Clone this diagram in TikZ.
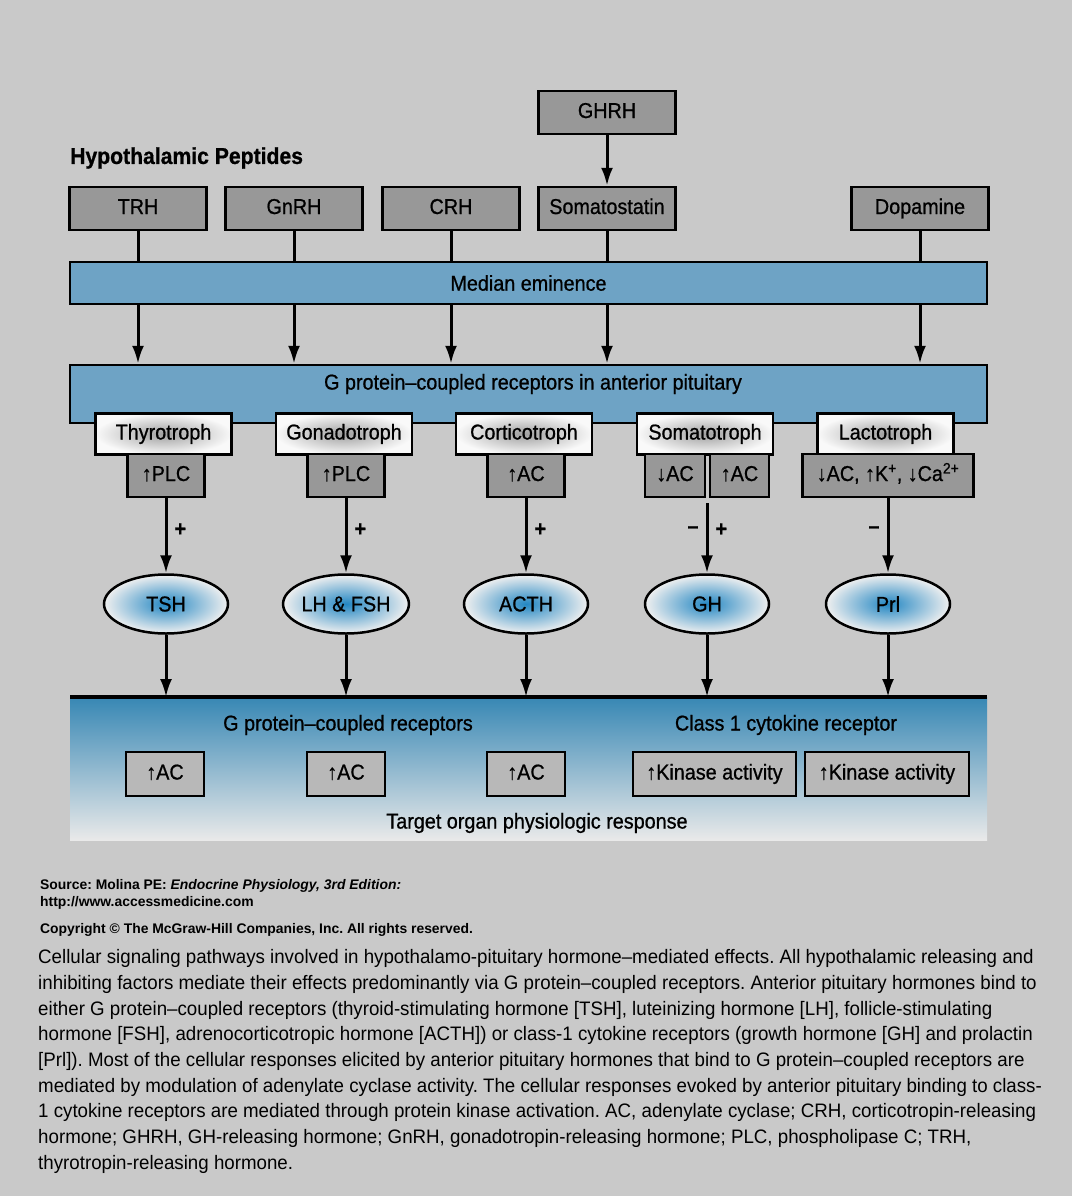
\documentclass[tikz,border=0pt]{standalone}
\usepackage{fontspec}
\setmainfont{Liberation Sans}
\newfontfamily\diagfont[FakeStretch=0.92,FakeBold=0.8]{Liberation Sans}
\newfontfamily\capfont[FakeStretch=0.96]{Liberation Sans}
\usepackage{xcolor}
\usetikzlibrary{arrows.meta,shapes.geometric}

\definecolor{bggray}{RGB}{201,201,201}
\definecolor{boxgray}{RGB}{152,152,152}
\definecolor{lightbox}{RGB}{184,184,184}
\definecolor{barblue}{RGB}{110,163,197}
\definecolor{ellblue}{RGB}{35,135,195}
\definecolor{regblue}{RGB}{55,135,180}

\newcommand{\dsize}{\diagfont\fontsize{21.5}{24}\selectfont}
\newcommand{\csize}{\capfont\fontsize{19.5}{22}\selectfont}
\newcommand{\ssize}{\fontsize{13.9}{16}\selectfont\bfseries}
\frenchspacing

\begin{document}
\begin{tikzpicture}[x=1pt, y=-1pt,
    hbox/.style={draw, line width=2.5pt, fill=boxgray, minimum width=137pt, minimum height=43pt, inner sep=0pt, text height=15pt, text depth=4pt, font=\dsize},
    bar/.style={draw, line width=2.5pt, fill=barblue, minimum width=917pt, inner sep=0pt, font=\dsize},
    cellbox/.style={draw, line width=2.5pt, shading=radial, inner color=gray!75, outer color=gray!5, minimum width=136pt, minimum height=41pt, inner sep=0pt, text height=15pt, text depth=4pt, font=\dsize},
    sigbox/.style={draw, line width=2.5pt, fill=boxgray, minimum height=43pt, inner sep=0pt, text height=15pt, text depth=4pt, font=\dsize},
    resbox/.style={draw, line width=2.5pt, fill=lightbox, minimum height=44pt, inner sep=0pt, text height=15pt, text depth=4pt, font=\dsize},
    hormone/.style={ellipse, draw, line width=2.5pt, shading=radial, inner color=ellblue, outer color=gray!12, minimum width=124pt, minimum height=59pt, inner sep=0pt, font=\dsize},
    arr/.style={line width=3pt, -{Latex[length=18pt,width=12pt]}},
    con/.style={line width=3pt},
    sign/.style={font=\dsize\bfseries, inner sep=7pt},
    txt/.style={anchor=west, inner sep=0pt}]

    % 背景
    \fill[bggray] (0,0) rectangle (1072,1196);
    \useasboundingbox (0,0) rectangle (1072,1196);

    % 下丘脑肽
    \node[txt, font=\diagfont\fontsize{23}{26}\selectfont\bfseries] (title) at (70,158) {Hypothalamic Peptides};
    \node[hbox] (GHRH) at (607,112.5) {GHRH};
    \node[hbox] (TRH) at (138,208.5) {TRH};
    \node[hbox] (GnRH) at (294,208.5) {GnRH};
    \node[hbox] (CRH) at (451,208.5) {CRH};
    \node[hbox] (Soma) at (607,208.5) {Somatostatin};
    \node[hbox] (Dopa) at (920,208.5) {Dopamine};

    % 正中隆起与受体
    \node[bar, minimum height=42pt] (ME) at (528.5,283) {Median eminence};
    \node[bar, minimum height=58pt] (GP) at (528.5,394) {};
    \node[font=\dsize] (GPtext) at (533,384) {G protein–coupled receptors in anterior pituitary};

    % 连线
    \draw[arr] (GHRH.south) -- (Soma.north);
    \draw[con] (TRH.south) -- (TRH.south |- ME.north);
    \draw[con] (GnRH.south) -- (GnRH.south |- ME.north);
    \draw[con] (CRH.south) -- (CRH.south |- ME.north);
    \draw[con] (Soma.south) -- (Soma.south |- ME.north);
    \draw[con] (Dopa.south) -- (Dopa.south |- ME.north);
    \draw[arr] (TRH.south |- ME.south) -- (TRH.south |- GP.north);
    \draw[arr] (GnRH.south |- ME.south) -- (GnRH.south |- GP.north);
    \draw[arr] (CRH.south |- ME.south) -- (CRH.south |- GP.north);
    \draw[arr] (Soma.south |- ME.south) -- (Soma.south |- GP.north);
    \draw[arr] (Dopa.south |- ME.south) -- (Dopa.south |- GP.north);

    % 垂体细胞
    \node[cellbox] (thyro) at (163.5,434) {Thyrotroph};
    \node[cellbox] (gonado) at (344,434) {Gonadotroph};
    \node[cellbox] (cortico) at (524,434) {Corticotroph};
    \node[cellbox] (somato) at (705,434) {Somatotroph};
    \node[cellbox] (lacto) at (885.5,434) {Lactotroph};

    % 信号
    \node[sigbox, minimum width=77pt] (sigT) at (166,475.5) {↑PLC};
    \node[sigbox, minimum width=77pt] (sigG) at (346,475.5) {↑PLC};
    \node[sigbox, minimum width=77pt] (sigC) at (526,475.5) {↑AC};
    \node[sigbox, minimum width=60pt] (sigSd) at (675,475.5) {↓AC};
    \node[sigbox, minimum width=59pt] (sigSu) at (739.5,475.5) {↑AC};
    \node[sigbox, minimum width=171pt] (sigL) at (888,475.5) {↓AC, ↑K\textsuperscript{+}, ↓Ca\textsuperscript{2+}};
    \coordinate (GHstart) at (707,503);

    % 垂体激素
    \node[hormone] (TSH) at (166,604) {TSH};
    \node[hormone] (LH) at (346,604) {LH \& FSH};
    \node[hormone] (ACTH) at (526,604) {ACTH};
    \node[hormone] (GH) at (707,604) {GH};
    \node[hormone] (Prl) at (888,604) {Prl};

    \draw[arr] (sigT.south) -- node[sign, right, pos=0.42] {+} (TSH.north);
    \draw[arr] (sigG.south) -- node[sign, right, pos=0.42] {+} (LH.north);
    \draw[arr] (sigC.south) -- node[sign, right, pos=0.42] {+} (ACTH.north);
    \draw[arr] (GHstart) -- node[sign, left, pos=0.38] {–} node[sign, right, pos=0.38] {+} (GH.north);
    \draw[arr] (sigL.south) -- node[sign, left, pos=0.42] {–} (Prl.north);

    % 靶器官
    \shade[top color=regblue, bottom color=bggray!40!white] (70,697) rectangle (987,840);
    \coordinate (baseL) at (70,697);
    \coordinate (baseR) at (987,697);
    \draw[line width=4pt] (baseL) -- (baseR);

    \draw[arr] (TSH.south) -- (TSH.south |- baseL);
    \draw[arr] (LH.south) -- (LH.south |- baseL);
    \draw[arr] (ACTH.south) -- (ACTH.south |- baseL);
    \draw[arr] (GH.south) -- (GH.south |- baseL);
    \draw[arr] (Prl.south) -- (Prl.south |- baseL);

    \node[font=\dsize] (gpcrB) at (348,725) {G protein–coupled receptors};
    \node[font=\dsize] (cyto) at (786,725) {Class 1 cytokine receptor};
    \node[resbox, minimum width=78pt] (resT) at (165,774) {↑AC};
    \node[resbox, minimum width=78pt] (resG) at (346,774) {↑AC};
    \node[resbox, minimum width=78pt] (resC) at (526,774) {↑AC};
    \node[resbox, minimum width=163pt] (resS) at (714.5,774) {↑Kinase activity};
    \node[resbox, minimum width=164pt] (resL) at (887,774) {↑Kinase activity};
    \node[font=\dsize] (target) at (537,823) {Target organ physiologic response};

    % 来源
    \node[txt, font=\ssize] (src1) at (40,886) {Source: Molina PE: \textit{Endocrine Physiology, 3rd Edition:}};
    \node[txt, font=\ssize] (src2) at (40,903) {http://www.accessmedicine.com};
    \node[txt, font=\ssize] (copy) at (40,930) {Copyright © The McGraw-Hill Companies, Inc. All rights reserved.};

    % 图注
    \node[txt, font=\csize] (cap1) at (38,958) {Cellular signaling pathways involved in hypothalamo-pituitary hormone–mediated effects. All hypothalamic releasing and};
    \node[txt, font=\csize] (cap2) at (38,984) {inhibiting factors mediate their effects predominantly via G protein–coupled receptors. Anterior pituitary hormones bind to};
    \node[txt, font=\csize] (cap3) at (38,1010) {either G protein–coupled receptors (thyroid-stimulating hormone [TSH], luteinizing hormone [LH], follicle-stimulating};
    \node[txt, font=\csize] (cap4) at (38,1035) {hormone [FSH], adrenocorticotropic hormone [ACTH]) or class-1 cytokine receptors (growth hormone [GH] and prolactin};
    \node[txt, font=\csize] (cap5) at (38,1061) {[Prl]). Most of the cellular responses elicited by anterior pituitary hormones that bind to G protein–coupled receptors are};
    \node[txt, font=\csize] (cap6) at (38,1087) {mediated by modulation of adenylate cyclase activity. The cellular responses evoked by anterior pituitary binding to class-};
    \node[txt, font=\csize] (cap7) at (38,1112) {1 cytokine receptors are mediated through protein kinase activation. AC, adenylate cyclase; CRH, corticotropin-releasing};
    \node[txt, font=\csize] (cap8) at (38,1138) {hormone; GHRH, GH-releasing hormone; GnRH, gonadotropin-releasing hormone; PLC, phospholipase C; TRH,};
    \node[txt, font=\csize] (cap9) at (38,1164) {thyrotropin-releasing hormone.};
\end{tikzpicture}
\end{document}
